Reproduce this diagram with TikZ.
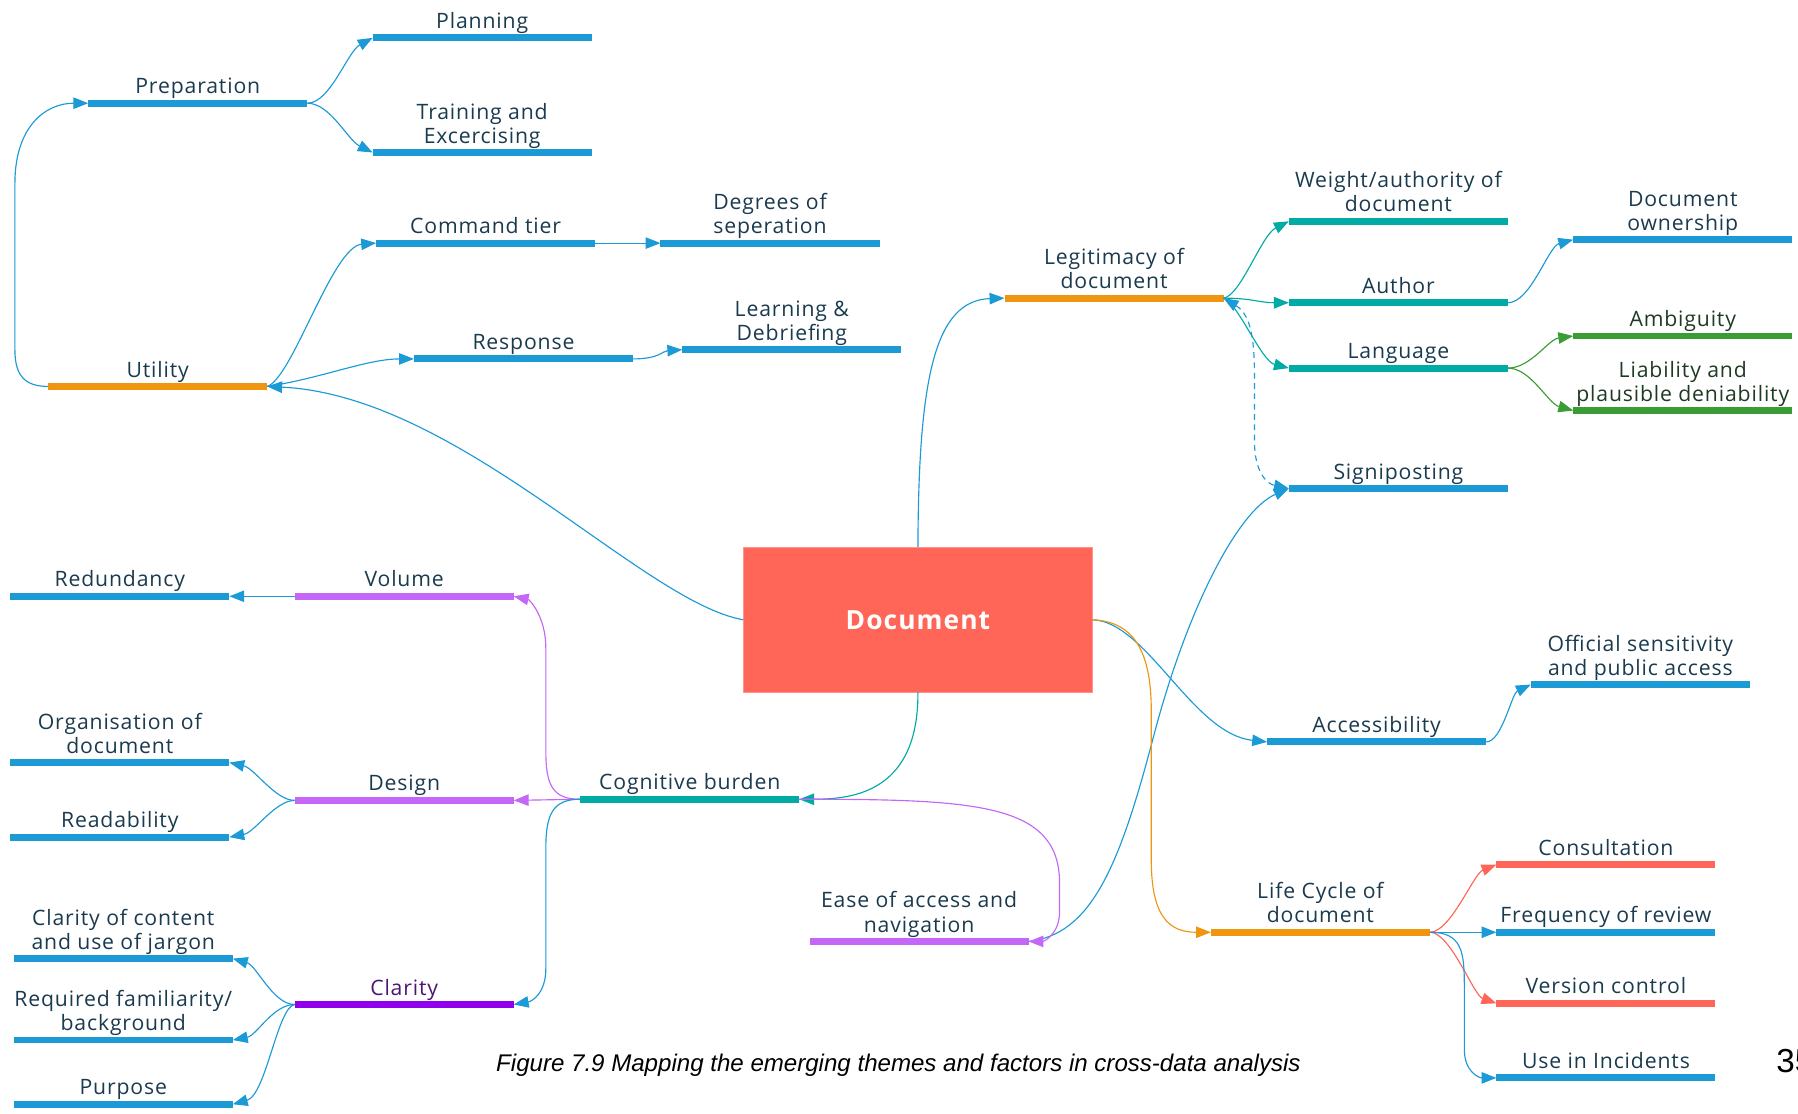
\documentclass[tikz,border=0pt]{standalone}
\usepackage{fontspec}
\setmainfont{Open Sans}
\newfontfamily\lblfont[LetterSpace=4]{Open Sans}
\newfontfamily\capfont{Liberation Sans}
\usetikzlibrary{arrows.meta,calc}

\definecolor{cBlue}{HTML}{1C9AD6}
\definecolor{cOrange}{HTML}{EF9510}
\definecolor{cTeal}{HTML}{00ABA6}
\definecolor{cGreen}{HTML}{3A9C35}
\definecolor{cPurple}{HTML}{C466F7}
\definecolor{cViolet}{HTML}{9000EC}
\definecolor{cSalmon}{HTML}{FF6657}
\definecolor{txtDark}{HTML}{1A3A4E}
\definecolor{txtGreen}{HTML}{1E3A22}
\definecolor{txtViolet}{HTML}{4C1475}

\tikzset{
  bigtri/.tip={Triangle[length=13pt,width=10pt]},
  topic/.style={rectangle, inner sep=0pt, outer sep=0pt, minimum width=191pt,
    minimum height=6pt, fill=#1, anchor=west, label distance=1pt},
  lbl/.style={font=\lblfont\fontsize{18.5}{21}\selectfont, text=txtDark,
    align=center, inner sep=0pt, text depth=5pt},
  glbl/.style={lbl, text=txtGreen},
  vlbl/.style={lbl, text=txtViolet},
  docbox/.style={rectangle, fill=cSalmon, draw=cSalmon!70!white, line width=0.6pt,
    minimum width=304pt, minimum height=126pt, inner sep=0pt, text=white,
    font=\lblfont\bfseries\fontsize{23}{26}\selectfont},
  conn/.style={draw=#1, line width=1pt, -bigtri},
}

\begin{document}
\begin{tikzpicture}[x=1pt,y=-1pt]
\useasboundingbox (0,0) rectangle (1568,971);

% central topic
\node[docbox] (doc) at (800.5,540.5) {Document};

% utility branch
\node[topic=cOrange, label={[lbl]above:Utility}] (util) at (42,337) {};
\node[topic=cBlue, label={[lbl]above:Preparation}] (prep) at (77,90) {};
\node[topic=cBlue, label={[lbl]above:Planning}] (plan) at (325,33) {};
\node[topic=cBlue, label={[lbl]above:{Training and\\Excercising}}] (train) at (325,133) {};
\node[topic=cBlue, label={[lbl]above:Command tier}] (cmd) at (328,212) {};
\node[topic=cBlue, label={[lbl]above:{Degrees of\\seperation}}] (deg) at (576,212) {};
\node[topic=cBlue, label={[lbl]above:Response}] (resp) at (361,313) {};
\node[topic=cBlue, label={[lbl]above:{Learning \&\\Debriefing}}] (learn) at (595,305) {};

% legitimacy branch
\node[topic=cOrange, label={[lbl]above:{Legitimacy of\\document}}] (legit) at (876,260) {};
\node[topic=cTeal, label={[lbl]above:{Weight/authority of\\document}}] (weight) at (1124,193) {};
\node[topic=cTeal, label={[lbl]above:Author}] (author) at (1124,264) {};
\node[topic=cTeal, label={[lbl]above:Language}] (lang) at (1124,321) {};
\node[topic=cBlue, label={[lbl]above:{Document\\ownership}}] (owner) at (1372,209) {};
\node[topic=cGreen, label={[glbl]above:Ambiguity}] (ambig) at (1372,293) {};
\node[topic=cGreen, label={[glbl]above:{Liability and\\plausible deniability}}] (liab) at (1372,358) {};
\node[topic=cBlue, label={[lbl]above:Signiposting}] (sign) at (1124,426) {};

% cognitive burden branch
\node[topic=cTeal, label={[lbl]above:Cognitive burden}] (cog) at (506,697) {};
\node[topic=cPurple, label={[lbl]above:Volume}] (vol) at (257,520) {};
\node[topic=cPurple, label={[lbl]above:Design}] (design) at (257,698) {};
\node[topic=cViolet, label={[vlbl]above:Clarity}] (clar) at (257,876) {};
\node[topic=cPurple, label={[lbl]above:{Ease of access and\\navigation}}] (ease) at (706,821) {};
\node[topic=cBlue, label={[lbl]above:Redundancy}] (redund) at (9,520) {};
\node[topic=cBlue, label={[lbl]above:{Organisation of\\document}}] (organ) at (9,665) {};
\node[topic=cBlue, label={[lbl]above:Readability}] (read) at (9,730) {};
\node[topic=cBlue, label={[lbl]above:{Clarity of content\\and use of jargon}}] (clcont) at (12,836) {};
\node[topic=cBlue, label={[lbl]above:{Required familiarity/\\background}}] (reqfam) at (12,907) {};
\node[topic=cBlue, label={[lbl]above:Purpose}] (purp) at (12,963) {};

% accessibility and life cycle branches
\node[topic=cBlue, label={[lbl]above:Accessibility}] (access) at (1105,647) {};
\node[topic=cBlue, label={[lbl]above:{Official sensitivity\\and public access}}] (offic) at (1335,597) {};
\node[topic=cOrange, label={[lbl]above:{Life Cycle of\\document}}] (life) at (1056,813) {};
\node[topic=cSalmon, label={[lbl]above:Consultation}] (consult) at (1305,754) {};
\node[topic=cBlue, label={[lbl]above:Frequency of review}] (freq) at (1305,813) {};
\node[topic=cSalmon, label={[lbl]above:Version control}] (version) at (1305,875) {};
\node[topic=cBlue, label={[lbl]above:Use in Incidents}] (incid) at (1305,940) {};

% caption and page number
\node[anchor=base, inner sep=0pt, font=\capfont\itshape\fontsize{21}{24}\selectfont] (cap) at (783.5,934)
  {Figure 7.9 Mapping the emerging themes and factors in cross-data analysis};
\node[anchor=base west, inner sep=0pt, font=\capfont\fontsize{29}{32}\selectfont] (pg) at (1549,935) {35};

% connectors: utility
\draw[conn=cBlue] (doc.west) .. controls (560,525) and (400,345) .. (util.east);
\draw[conn=cBlue] (util.west) .. controls (22,337) and (13,328) .. (13,305) -- (13,160)
  .. controls (13,110) and (40,90) .. (prep.west);
\draw[conn=cBlue] (prep.east) .. controls (288,90) and (303,45) .. (plan.west);
\draw[conn=cBlue] (prep.east) .. controls (288,90) and (303,122) .. (train.west);
\draw[conn=cBlue] (util.east) .. controls (255,330) and (290,215) .. (cmd.west);
\draw[conn=cBlue] (util.east) .. controls (280,330) and (320,313) .. (resp.west);
\draw[conn=cBlue] (cmd.east) -- (deg.west);
\draw[conn=cBlue] (resp.east) .. controls (575,313) and (578,306) .. (learn.west);

% connectors: legitimacy
\draw[conn=cBlue] (doc.north) .. controls (801,330) and (815,262) .. (legit.west);
\draw[conn=cTeal] (legit.east) .. controls (1082,258) and (1100,205) .. (weight.west);
\draw[conn=cTeal] (legit.east) .. controls (1092,260) and (1098,264) .. (author.west);
\draw[conn=cTeal] (legit.east) .. controls (1080,265) and (1100,315) .. (lang.west);
\draw[draw=cBlue, line width=1pt, dash pattern=on 5pt off 4pt, bigtri-bigtri]
  (legit.east) .. controls (1092,275) and (1094,300) .. (1094,330) -- (1094,385)
  .. controls (1094,412) and (1105,422) .. (sign.west);
\draw[conn=cBlue] (author.east) .. controls (1335,264) and (1350,215) .. (owner.west);
\draw[conn=cGreen] (lang.east) .. controls (1335,321) and (1350,296) .. (ambig.west);
\draw[conn=cGreen] (lang.east) .. controls (1335,321) and (1350,352) .. (liab.west);
\draw[conn=cBlue] (ease.east) .. controls (950,815) and (975,760) .. (1005,646)
  .. controls (1035,530) and (1080,445) .. (sign.west);

% connectors: accessibility and life cycle
\draw[conn=cBlue] (doc.east) .. controls (1000,542) and (1040,640) .. (access.west);
\draw[conn=cBlue] (access.east) .. controls (1310,647) and (1318,605) .. (offic.west);
\draw[conn=cOrange] (doc.east) .. controls (990,542) and (1004,570) .. (1004,620) -- (1004,750)
  .. controls (1004,800) and (1020,813) .. (life.west);
\draw[conn=cSalmon] (life.east) .. controls (1265,813) and (1285,762) .. (consult.west);
\draw[conn=cBlue] (life.east) -- (freq.west);
\draw[conn=cSalmon] (life.east) .. controls (1265,813) and (1285,868) .. (version.west);
\draw[conn=cBlue] (life.east) .. controls (1275,813) and (1277,830) .. (1277,860) -- (1277,915)
  .. controls (1277,935) and (1290,940) .. (incid.west);

% connectors: cognitive burden
\draw[conn=cTeal] (doc.south) .. controls (801,690) and (745,697) .. (cog.east);
\draw[conn=cPurple] (cog.east) .. controls (850,697) and (924,700) .. (924,770) -- (924,795)
  .. controls (924,815) and (910,821) .. (ease.east);
\draw[conn=cPurple] (cog.west) .. controls (482,697) and (476,685) .. (476,655) -- (476,565)
  .. controls (476,538) and (462,523) .. (vol.east);
\draw[conn=cPurple] (cog.west) -- (design.east);
\draw[conn=cBlue] (cog.west) .. controls (482,697) and (476,710) .. (476,740) -- (476,845)
  .. controls (476,865) and (465,873) .. (clar.east);
\draw[conn=cBlue] (vol.west) -- (redund.east);
\draw[conn=cBlue] (design.west) .. controls (240,698) and (222,670) .. (organ.east);
\draw[conn=cBlue] (design.west) .. controls (240,698) and (222,726) .. (read.east);
\draw[conn=cBlue] (clar.west) .. controls (238,876) and (224,842) .. (clcont.east);
\draw[conn=cBlue] (clar.west) .. controls (238,876) and (224,903) .. (reqfam.east);
\draw[conn=cBlue] (clar.west) .. controls (242,878) and (232,955) .. (purp.east);
\end{tikzpicture}
\end{document}
